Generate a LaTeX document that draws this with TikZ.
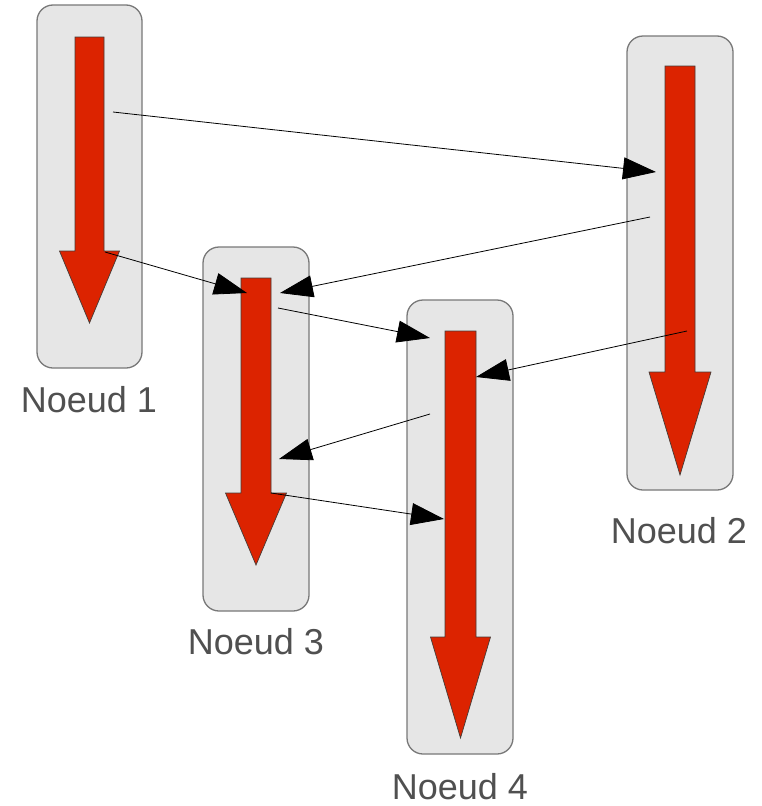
\documentclass[tikz,border=0pt]{standalone}
\usepackage{fontspec}
\setmainfont{Liberation Sans}
\usetikzlibrary{arrows.meta}
\definecolor{flowred}{RGB}{220,35,0}
\definecolor{flowedge}{RGB}{70,60,55}
\definecolor{boxfill}{RGB}{230,230,230}
\definecolor{boxedge}{RGB}{120,120,120}
\definecolor{labelgray}{RGB}{80,80,80}
\tikzset{
  nodebox/.style={draw=boxedge, fill=boxfill, line width=1.3pt, rounded corners=16pt,
    inner sep=0pt},
  flowshape/.style={fill=flowred, draw=flowedge, line width=0.7pt, line join=miter},
  msg/.style={draw=black, line width=0.8pt,
    -{Triangle[length=33pt,width=22pt]}, shorten >=0pt},
  nodelabel/.style={text=labelgray, font=\fontsize{36}{40}\selectfont, anchor=base,
    inner sep=0pt}
}
% #1 = x of axis, #2 = top of shaft, #3 = start of head, #4 = tip,
% #5 = half width of shaft, #6 = half width of head
\newcommand\flowarrow[6]{%
  \draw[flowshape] ({#1-#5},#2) -- ({#1+#5},#2) -- ({#1+#5},#3) -- ({#1+#6},#3)
    -- (#1,#4) -- ({#1-#6},#3) -- ({#1-#5},#3) -- cycle;}
\begin{document}
\begin{tikzpicture}[x=1pt,y=-1pt]
\useasboundingbox (0,0) rectangle (761,806);

% process boxes
\node[nodebox, minimum width=105pt, minimum height=363pt] (p1) at (89.5,186.5) {};
\node[nodebox, minimum width=106pt, minimum height=454pt] (p2) at (680,263) {};
\node[nodebox, minimum width=106pt, minimum height=364pt] (p3) at (256,429) {};
\node[nodebox, minimum width=106pt, minimum height=454pt] (p4) at (460,527) {};

% time lines
\flowarrow{89.5}{37}{251}{323}{14.5}{30}
\flowarrow{680}{66}{372}{475}{15}{31}
\flowarrow{256}{278}{493}{565}{15}{30.5}
\flowarrow{460.5}{331}{637}{738}{15.5}{30}

% labels
\node[nodelabel] (l1) at (89,412) {Noeud 1};
\node[nodelabel] (l2) at (679,543) {Noeud 2};
\node[nodelabel] (l3) at (256,654) {Noeud 3};
\node[nodelabel] (l4) at (460,799) {Noeud 4};

% message end points
\coordinate (a1) at (113,112);  \coordinate (b1) at (656,172);
\coordinate (a2) at (650,217);  \coordinate (b2) at (280,293);
\coordinate (a3) at (105,252);  \coordinate (b3) at (247,293);
\coordinate (a4) at (278,308);  \coordinate (b4) at (430,338);
\coordinate (a5) at (687,331);  \coordinate (b5) at (476,377);
\coordinate (a6) at (430,414);  \coordinate (b6) at (279,459);
\coordinate (a7) at (271,493);  \coordinate (b7) at (444,519);

% messages
\draw[msg] (a1) -- (b1);
\draw[msg] (a2) -- (b2);
\draw[msg] (a3) -- (b3);
\draw[msg] (a4) -- (b4);
\draw[msg] (a5) -- (b5);
\draw[msg] (a6) -- (b6);
\draw[msg] (a7) -- (b7);
\end{tikzpicture}
\end{document}
